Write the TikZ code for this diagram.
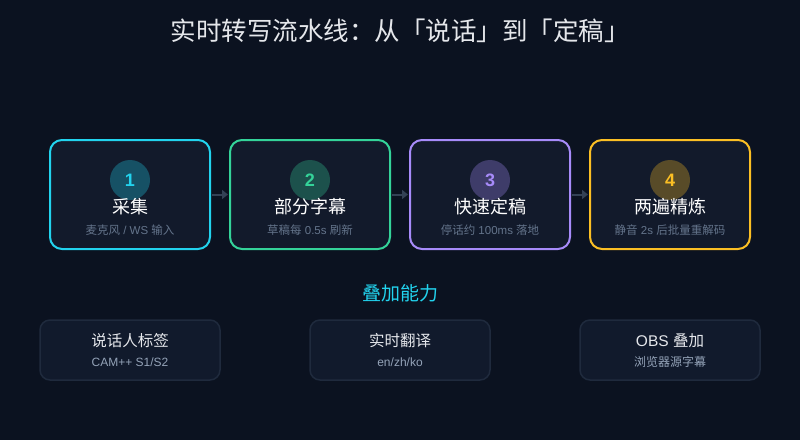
\documentclass[tikz,border=0pt]{standalone}
\usepackage{fontspec}
\setmainfont{Liberation Sans}
\newfontfamily\cjk{Noto Sans CJK SC}
\newcommand{\cj}[1]{{\cjk #1}}
\usetikzlibrary{arrows.meta}
\definecolor{bg}{HTML}{0B1220}
\definecolor{boxfill}{HTML}{121A2B}
\definecolor{subbox}{HTML}{111A2C}
\definecolor{subborder}{HTML}{1F2A3D}
\definecolor{cyanc}{HTML}{22D3EE}
\definecolor{greenc}{HTML}{34D399}
\definecolor{purplec}{HTML}{A78BFA}
\definecolor{amberc}{HTML}{FBBF24}
\definecolor{titlec}{HTML}{E5E7EB}
\definecolor{subc}{HTML}{64748B}
\definecolor{subc2}{HTML}{94A3B8}
\definecolor{arrowc}{HTML}{334155}
\tikzset{
  stagebox/.style={draw=#1, line width=2pt, fill=boxfill, rounded corners=12pt, minimum width=160pt, minimum height=109pt, inner sep=0pt},
  numcirc/.style={circle, fill=#1, fill opacity=0.3, text opacity=1, minimum size=40pt, inner sep=0pt, text=#1, font=\fontsize{18pt}{18pt}\selectfont\bfseries},
  stagetitle/.style={text=white, font=\fontsize{18pt}{20pt}\selectfont\cjk, inner sep=0pt},
  stagesub/.style={text=subc, font=\fontsize{11.5pt}{12pt}\selectfont, inner sep=0pt},
  flowarrow/.style={draw=arrowc, line width=2pt, -{Triangle[length=6pt,width=9pt]}},
  featbox/.style={draw=subborder, line width=1.5pt, fill=subbox, rounded corners=10pt, minimum width=180pt, minimum height=60pt, inner sep=0pt},
  feattitle/.style={text=titlec, font=\fontsize{15.5pt}{16pt}\selectfont, inner sep=0pt},
  featsub/.style={text=subc2, font=\fontsize{12pt}{12pt}\selectfont, inner sep=0pt},
}
\begin{document}
\begin{tikzpicture}[x=1pt,y=-1pt]
\fill[bg] (0,0) rectangle (800,440);
\useasboundingbox (0,0) rectangle (800,440);
\node[text=titlec, font=\fontsize{25.5pt}{28pt}\selectfont\cjk, inner sep=0pt] (title) at (400,31) {实时转写流水线：从「说话」到「定稿」};

\node[stagebox=cyanc] (s1) at (130,194.5) {};
\node[stagebox=greenc] (s2) at (310,194.5) {};
\node[stagebox=purplec] (s3) at (490,194.5) {};
\node[stagebox=amberc] (s4) at (670,194.5) {};

\node[numcirc=cyanc] (c1) at (130,180) {1};
\node[numcirc=greenc] (c2) at (310,180) {2};
\node[numcirc=purplec] (c3) at (490,180) {3};
\node[numcirc=amberc] (c4) at (670,180) {4};

\node[stagetitle] (t1) at (130,207) {采集};
\node[stagetitle] (t2) at (310,207) {部分字幕};
\node[stagetitle] (t3) at (490,207) {快速定稿};
\node[stagetitle] (t4) at (670,207) {两遍精炼};

\node[stagesub] (d1) at (130,230) {\cj{麦克风} / WS \cj{输入}};
\node[stagesub] (d2) at (310,230) {\cj{草稿每} 0.5s \cj{刷新}};
\node[stagesub] (d3) at (490,230) {\cj{停话约} 100ms \cj{落地}};
\node[stagesub] (d4) at (670,230) {\cj{静音} 2s \cj{后批量重解码}};

\draw[flowarrow] ([xshift=1pt]s1.east) -- ([xshift=-1pt]s2.west);
\draw[flowarrow] ([xshift=1pt]s2.east) -- ([xshift=-1pt]s3.west);
\draw[flowarrow] ([xshift=1pt]s3.east) -- ([xshift=-1pt]s4.west);

\node[text=cyanc, font=\fontsize{19pt}{20pt}\selectfont\cjk, inner sep=0pt] (cap) at (400,293) {叠加能力};

\node[featbox] (f1) at (130,350) {};
\node[featbox] (f2) at (400,350) {};
\node[featbox] (f3) at (670,350) {};

\node[feattitle] (ft1) at (130,341) {\cj{说话人标签}};
\node[feattitle] (ft2) at (400,341) {\cj{实时翻译}};
\node[feattitle] (ft3) at (670,341) {OBS \cj{叠加}};

\node[featsub] (fs1) at (130,362) {CAM++ S1/S2};
\node[featsub] (fs2) at (400,362) {en/zh/ko};
\node[featsub] (fs3) at (670,362) {\cj{浏览器源字幕}};
\end{tikzpicture}
\end{document}
